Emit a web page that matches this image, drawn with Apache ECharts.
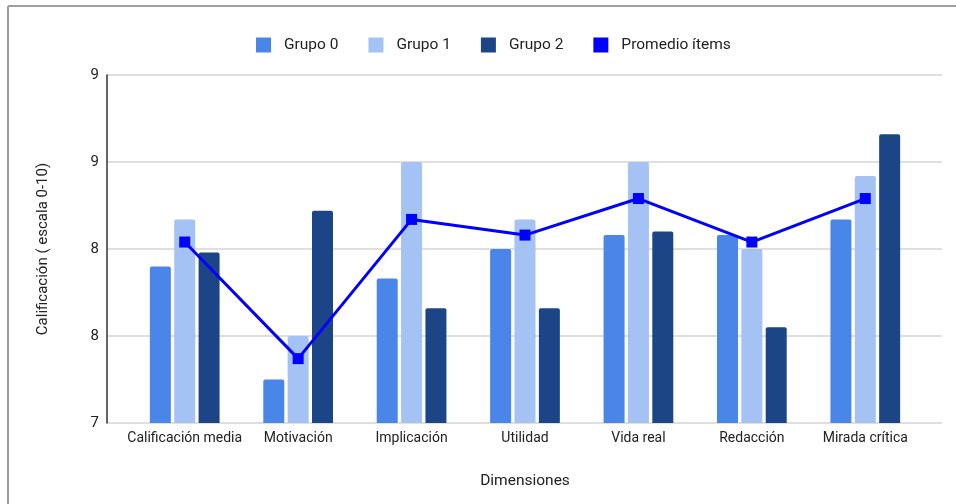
<!DOCTYPE html>
<html>
<head>
<meta charset="utf-8">
<script src="https://cdn.jsdelivr.net/npm/echarts@6/dist/echarts.min.js"></script>
<style>
  html, body { margin: 0; padding: 0; background: #fff; }
  #chart { width: 956px; height: 504px; }
</style>
</head>
<body>
<div id="chart"></div>
<script>
// Dimensions evaluated and average score per student group
const categories = ['Calificación media', 'Motivación', 'Implicación', 'Utilidad', 'Vida real', 'Redacción', 'Mirada crítica'];
const grupo0 = [7.90, 7.25, 7.83, 8.00, 8.08, 8.08, 8.17];
const grupo1 = [8.17, 7.50, 8.50, 8.17, 8.50, 8.00, 8.42];
const grupo2 = [7.98, 8.22, 7.66, 7.66, 8.10, 7.55, 8.66];
const promedio = [8.04, 7.37, 8.17, 8.08, 8.29, 8.04, 8.29];

// Y tick labels as shown (whole-number display of 7, 7.5, 8, 8.5, 9)
const yTickLabels = ['7', '8', '8', '9', '9'];
const yMin = 7, yMax = 9, yStep = 0.5;

const FONT = 'Roboto, "Noto Sans", sans-serif';
const TEXT = '#222222';

const chart = echarts.init(document.getElementById('chart'), null, { renderer: 'canvas' });

const option = {
  backgroundColor: '#ffffff',
  animation: false,
  textStyle: { fontFamily: FONT },
  graphic: [
    { type: 'line', shape: { x1: 8, y1: 6, x2: 956, y2: 6 }, style: { stroke: '#9e9e9e', lineWidth: 2 } },
    { type: 'line', shape: { x1: 8, y1: 6, x2: 8, y2: 504 }, style: { stroke: '#9e9e9e', lineWidth: 2 } }
  ],
  legend: {
    top: 32,
    left: 251,
    icon: 'rect',
    itemWidth: 15,
    itemHeight: 15,
    itemGap: 30,
    textStyle: { fontFamily: FONT, fontSize: 15.5, color: TEXT, padding: [0, 0, 0, 8] },
    data: ['Grupo 0', 'Grupo 1', 'Grupo 2', 'Promedio ítems']
  },
  grid: [
    // frame grid: y axis line and gridlines
    { left: 107, right: 14, top: 75, bottom: 81 },
    // data grid: categories placed with inner padding
    { left: 128, right: 34, top: 75, bottom: 81 }
  ],
  xAxis: [
    {
      gridIndex: 0, type: 'category', data: categories, show: false
    },
    {
      gridIndex: 1, type: 'category', data: categories,
      axisLine: { show: false },
      axisTick: { show: false },
      axisLabel: { color: TEXT, fontSize: 14, fontFamily: FONT, margin: 8, interval: 0 },
      name: 'Dimensiones',
      nameLocation: 'middle',
      nameGap: 50,
      nameTextStyle: { color: TEXT, fontSize: 15.5, fontFamily: FONT }
    }
  ],
  yAxis: [
    {
      gridIndex: 0, type: 'value', min: yMin, max: yMax, interval: yStep,
      axisLine: { show: true, lineStyle: { color: '#333333', width: 1.5 } },
      axisTick: { show: false },
      splitLine: { show: true, lineStyle: { color: '#d4d4d4', width: 1.5 } },
      axisLabel: {
        color: TEXT, fontSize: 15, fontFamily: FONT, margin: 8,
        formatter: (v, i) => yTickLabels[i]
      },
      name: 'Calificación ( escala 0-10)',
      nameLocation: 'middle',
      nameGap: 56,
      nameTextStyle: { color: TEXT, fontSize: 15, fontFamily: FONT }
    },
    {
      gridIndex: 1, type: 'value', min: yMin, max: yMax, interval: yStep,
      show: false, splitLine: { show: false }
    }
  ],
  series: [
    {
      name: 'Grupo 0', type: 'bar', xAxisIndex: 1, yAxisIndex: 1, data: grupo0,
      barWidth: 21, barGap: '16%',
      itemStyle: { color: '#4a86e8', borderRadius: [2, 2, 0, 0] }
    },
    {
      name: 'Grupo 1', type: 'bar', xAxisIndex: 1, yAxisIndex: 1, data: grupo1,
      barWidth: 21, barGap: '16%',
      itemStyle: { color: '#a4c2f4', borderRadius: [2, 2, 0, 0] }
    },
    {
      name: 'Grupo 2', type: 'bar', xAxisIndex: 1, yAxisIndex: 1, data: grupo2,
      barWidth: 21, barGap: '16%',
      itemStyle: { color: '#1c4587', borderRadius: [2, 2, 0, 0] }
    },
    {
      name: 'Promedio ítems', type: 'line', xAxisIndex: 1, yAxisIndex: 1, data: promedio,
      symbol: 'rect', symbolSize: 11, z: 5,
      lineStyle: { color: '#0000ff', width: 3 },
      itemStyle: { color: '#0000ff' }
    }
  ]
};

chart.setOption(option);
</script>
</body>
</html>
